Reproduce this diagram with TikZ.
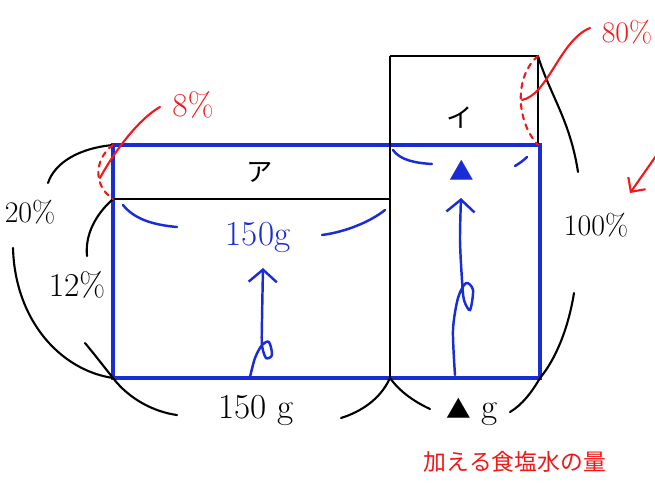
\documentclass[tikz,border=0pt]{standalone}
\usepackage{fontspec}
\newfontfamily\jpfont{Noto Sans CJK JP}
\usetikzlibrary{arrows.meta, positioning, calc}
\definecolor{penblue}{RGB}{25, 45, 215}
\definecolor{penred}{RGB}{240, 25, 25}

\begin{document}
\begin{tikzpicture}[x=0.02cm, y=-0.02cm,
    box/.style={draw=black, line width=0.9pt},
    mix/.style={draw=penblue, line width=2.6pt},
    span/.style={draw=black, line width=1.2pt, line cap=round},
    redmark/.style={draw=penred, line width=1.2pt, line cap=round},
    bluemark/.style={draw=penblue, line width=1.4pt, line cap=round},
    rise/.style={bluemark, -{Straight Barb[length=7pt, width=16pt, line width=1.4pt]}},
    lab/.style={font=\fontsize{17}{20}\selectfont, inner sep=1pt},
    big/.style={font=\fontsize{20}{24}\selectfont, inner sep=1pt},
    kana/.style={font=\jpfont\fontsize{15}{18}\selectfont, inner sep=1pt}]

    \useasboundingbox (0,0) rectangle (655,485);

    % Corners of the two solutions
    \coordinate (tl) at (113,145);
    \coordinate (tr) at (540,145);
    \coordinate (bl) at (113,378);
    \coordinate (br) at (540,378);
    \coordinate (aB) at (113,199);
    \coordinate (aR) at (390,199);
    \coordinate (mb) at (390,378);
    \coordinate (iTL) at (390,56);
    \coordinate (iTR) at (538,56);
    \coordinate (iBR) at (538,145);

    % Boxes
    \draw[mix] (tl) rectangle (br);
    \draw[box] (aB) -- (aR);
    \draw[box] (iTL) -- (mb);
    \draw[box] (iTL) -- (iTR) -- (iBR);

    % Labels
    \node[kana] (boxA) at (260,172) {ア};
    \node[kana] (boxI) at (460,118) {イ};
    \node[big, text=penblue] (saltA) at (258,237) {150g};
    \node[font=\jpfont\fontsize{14}{16}\selectfont, text=penblue, inner sep=1pt] (saltI) at (462,170) {▲};
    \node[big] (weightA) at (256,410) {150 g};
    \node[big] (weightI) at (472,412) {{\jpfont\fontsize{14}{16}\selectfont▲} g};
    \node[font=\jpfont\fontsize{13}{16}\selectfont, text=penred, inner sep=1pt] (note) at (515,462) {加える食塩水の量};
    \node[lab] (pctTop) at (30,212) {20\%};
    \node[lab, font=\fontsize{19}{22}\selectfont] (pctA) at (77,285) {12\%};
    \node[lab] (pctI) at (596,225) {100\%};
    \node[lab, font=\fontsize{19}{22}\selectfont, text=penred] (diffA) at (193,105) {8\%};
    \node[lab, text=penred] (diffI) at (627,32) {80\%};

    % Spans of the percentages
    \draw[span] (tl) .. controls (80,148) and (55,162) .. (48,183);
    \draw[span] (13,248) .. controls (15,320) and (60,370) .. (bl);
    \draw[span] (aB) .. controls (95,215) and (85,235) .. (87,256);
    \draw[span] (85,343) .. controls (95,355) and (105,368) .. (bl);
    \draw[span] (iTR) .. controls (550,95) and (570,120) .. (578,172);
    \draw[span] (574,293) .. controls (568,330) and (555,360) .. (br);

    % Spans of the weights
    \draw[span] (bl) .. controls (130,400) and (155,412) .. (177,415);
    \draw[span] (mb) .. controls (380,400) and (360,412) .. (341,418);
    \draw[span] (mb) .. controls (400,392) and (415,402) .. (430,409);
    \draw[span] (510,412) .. controls (522,405) and (532,392) .. (br);

    % Differences
    \draw[redmark, dashed] (tl) .. controls (95,158) and (92,185) .. (aB);
    \draw[redmark] (100,178) .. controls (115,150) and (140,118) .. (160,107);
    \draw[redmark, dashed] (iTR) .. controls (515,75) and (515,120) .. (iBR);
    \draw[redmark] (522,100) .. controls (548,95) and (560,40) .. (590,28);
    \draw[redmark, -{Straight Barb[length=6pt, width=12pt, line width=1.2pt]}] (656,156) -- (630,193);

    % Salt in each solution
    \draw[bluemark] (123,205) .. controls (135,220) and (155,225) .. (177,227);
    \draw[bluemark] (322,235) .. controls (345,232) and (370,222) .. (385,210);
    \draw[bluemark] (393,150) .. controls (400,160) and (415,163) .. (432,164);
    \draw[bluemark] (515,166) .. controls (520,163) and (524,160) .. (527,157);
    \draw[rise] plot[smooth] coordinates {(250,377) (255,358) (262,345) (269,342) (272,355) (266,358) (262,345) (262,320) (263,268)};
    \draw[rise] plot[smooth] coordinates {(455,375) (453,330) (458,298) (466,283) (473,290) (470,310) (464,300) (462,280) (460,240) (461,198)};
\end{tikzpicture}
\end{document}
